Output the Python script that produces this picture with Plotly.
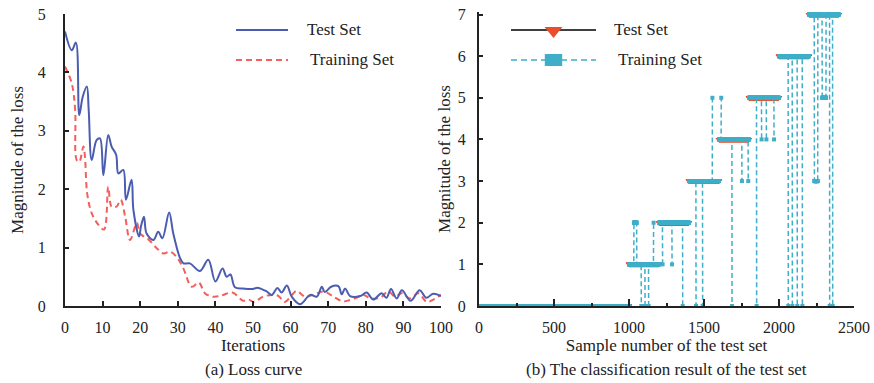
import plotly.graph_objects as go

# ---------------- Left panel: loss curves ----------------
test_iter = [0, 1.8, 2.9, 3.8, 4.7, 5.8, 6.3, 7.1, 8.4, 9.3, 10.2, 11.5, 12.4, 13.6, 14.2, 15.5, 16.2,
             17.7, 18.2, 19.7, 20.2, 21.0, 21.7, 23.5, 24.8, 25.9, 27.7, 28.8, 30.6, 31.5, 33.2, 35.9,
             38.1, 40.0, 41.9, 43.0, 44.0, 45.2, 47.4, 49.6, 51.4, 53.6, 55.0, 56.5, 57.6, 59.0, 60.3,
             62.5, 65.2, 67.0, 68.3, 69.1, 70.8, 72.7, 73.6, 74.5, 75.8, 78.5, 80.2, 82.0, 84.2, 85.5,
             86.7, 88.2, 89.6, 91.9, 94.3, 96.1, 97.9, 100]
test_loss = [4.70, 4.38, 4.51, 3.27, 3.58, 3.76, 3.36, 2.50, 2.84, 2.87, 2.24, 2.93, 2.73, 2.59, 2.27,
             2.33, 1.82, 2.16, 1.64, 1.19, 1.36, 1.53, 1.24, 1.13, 1.27, 1.16, 1.60, 1.24, 0.82, 0.73,
             0.73, 0.60, 0.79, 0.42, 0.64, 0.50, 0.54, 0.32, 0.30, 0.29, 0.31, 0.25, 0.19, 0.31, 0.23,
             0.35, 0.16, 0.03, 0.19, 0.16, 0.33, 0.24, 0.33, 0.34, 0.20, 0.30, 0.17, 0.17, 0.23, 0.11,
             0.22, 0.14, 0.29, 0.13, 0.27, 0.09, 0.27, 0.14, 0.21, 0.17]
train_iter = [0, 1.8, 2.7, 3.1, 3.8, 4.9, 5.3, 5.9, 7.1, 8.9, 10.4, 11.5, 12.4, 13.7, 14.8, 16.0, 17.3,
              19.1, 20.0, 22.2, 24.4, 26.2, 27.9, 29.7, 31.5, 33.7, 35.6, 37.2, 39.3, 41.2, 44.5, 47.4,
              48.8, 50.2, 52.7, 55.4, 56.8, 58.4, 60.5, 61.6, 63.8, 66.0, 68.8, 71.4, 73.8, 75.6, 77.5,
              79.5, 81.1, 83.8, 86.0, 87.8, 89.5, 91.7, 94.0, 96.2, 98.0, 100]
train_loss = [4.10, 3.81, 3.36, 2.50, 2.47, 2.73, 2.56, 1.93, 1.59, 1.39, 1.31, 2.04, 1.70, 1.70, 1.82,
              1.53, 1.13, 1.42, 1.24, 1.14, 0.99, 0.90, 0.93, 0.84, 0.64, 0.33, 0.40, 0.22, 0.16, 0.17,
              0.23, 0.09, 0.11, 0.07, 0.16, 0.19, 0.17, 0.07, 0.20, 0.26, 0.16, 0.19, 0.25, 0.16, 0.08,
              0.10, 0.14, 0.19, 0.13, 0.14, 0.25, 0.16, 0.22, 0.13, 0.22, 0.07, 0.11, 0.19]

# ---------------- Right panel: classification result ----------------
class_labels = [0, 1, 2, 3, 4, 5, 6, 7]
class_start = [0, 1000, 1200, 1400, 1600, 1800, 2000, 2200]
class_end = [1000, 1200, 1400, 1600, 1800, 2000, 2200, 2400]
# misclassified runs: first sample, last sample, predicted class
mis_first = [1033, 1082, 1107, 1131, 1164, 1224, 1287, 1358, 1447, 1491, 1556, 1615, 1687, 1753,
             1795, 1851, 1884, 1916, 1967, 2062, 2089, 2122, 2156, 2236, 2288, 2338, 2358]
mis_last = [1051, 1082, 1107, 1131, 1164, 1224, 1287, 1358, 1447, 1491, 1556, 1615, 1687, 1753,
            1795, 1851, 1884, 1916, 1967, 2062, 2089, 2122, 2156, 2258, 2313, 2338, 2358]
mis_pred = [2, 0, 0, 0, 2, 1, 1, 0, 0, 0, 5, 5, 0, 3, 3, 0, 4, 4, 4, 0, 0, 0, 0, 3, 5, 0, 0]

pred_of = {}
single = set()
for a, b, p in zip(mis_first, mis_last, mis_pred):
    for k in range(a, b + 1):
        pred_of[k] = p
    if a == b:
        single.add(a)

tx, ty, px_, py_ = [], [], [], []
for lab, s, e in zip(class_labels, class_start, class_end):
    for k in range(s, e):
        tx.append(k)
        ty.append(lab)
        px_.append(k)
        py_.append(pred_of.get(k, lab))
        if k in single:
            # the return leg of a one-sample jump would sit on top of the outgoing one
            px_.append(None)
            py_.append(None)
    tx.append(None); ty.append(None); px_.append(None); py_.append(None)

BLUE = "#4A5DB0"
RED_D = "#F25F5C"
CYAN = "#3FAEC8"
RED_T = "#E84E2C"
AX = "#222222"
FONT = "Liberation Serif, Times New Roman, serif"

fig = go.Figure()
fig.add_trace(go.Scatter(x=train_iter, y=train_loss, mode="lines", showlegend=False,
                         line=dict(color=RED_D, width=2, dash="6px,4px", shape="spline", smoothing=1.0),
                         xaxis="x", yaxis="y"))
fig.add_trace(go.Scatter(x=test_iter, y=test_loss, mode="lines", showlegend=False,
                         line=dict(color=BLUE, width=2, shape="spline", smoothing=1.0),
                         xaxis="x", yaxis="y"))
fig.add_trace(go.Scatter(x=tx, y=ty, mode="lines+markers", showlegend=False,
                         line=dict(color="black", width=1.5),
                         marker=dict(symbol="triangle-down", size=6, color=RED_T, line=dict(width=0)),
                         xaxis="x2", yaxis="y2"))
fig.add_trace(go.Scatter(x=px_, y=py_, mode="lines+markers", showlegend=False,
                         line=dict(color=CYAN, width=1.5, dash="5px,3px"),
                         marker=dict(symbol="square", size=4, color=CYAN, line=dict(width=0)),
                         xaxis="x2", yaxis="y2"))

tickfont = dict(family=FONT, size=16, color=AX)
titlefont = dict(family=FONT, size=17, color=AX)

common = dict(showgrid=False, zeroline=False, showline=True, linecolor=AX, linewidth=2,
              ticks="inside", tickcolor=AX, tickwidth=1.5, tickfont=tickfont, mirror=False,
              automargin=False)

fig.update_layout(
    width=874, height=383,
    margin=dict(l=65, r=20, t=12, b=77, autoexpand=False),
    paper_bgcolor="white", plot_bgcolor="white",
    showlegend=False,
    xaxis=dict(domain=[0, 376 / 789], range=[0, 100], dtick=10, ticklen=5,
               ticklabelstandoff=6,
               title=dict(text="Iterations", font=titlefont, standoff=4), **common),
    yaxis=dict(domain=[0, 292 / 294], range=[0, 5], dtick=1, ticklen=4,
               ticklabelstandoff=14,
               title=dict(text="Magnitude of the loss", font=titlefont, standoff=10), **common),
    xaxis2=dict(domain=[414 / 789, 1], range=[0, 2500], dtick=500, ticklen=7, anchor="y2",
                ticklabelstandoff=6,
                minor=dict(dtick=250, ticks="inside", ticklen=3.5, tickcolor=AX, tickwidth=1.5),
                title=dict(text="Sample number of the test set", font=titlefont, standoff=4), **common),
    yaxis2=dict(domain=[0, 1], range=[0, 7.06], dtick=1, ticklen=4, anchor="x2",
                ticklabelstandoff=8,
                title=dict(text="Magnitude of the loss", font=titlefont, standoff=3), **common),
)

def pxx(p):
    return (p - 65) / 789

def pyy(p):
    return (306 - p) / 294

shapes = []
ann = []
# Left legend
shapes.append(dict(type="line", xref="paper", yref="paper", x0=pxx(236), x1=pxx(288),
                   y0=pyy(30), y1=pyy(30), line=dict(color=BLUE, width=2)))
shapes.append(dict(type="line", xref="paper", yref="paper", x0=pxx(236), x1=pxx(288),
                   y0=pyy(60), y1=pyy(60), line=dict(color=RED_D, width=2, dash="6px,4px")))
ann.append(dict(text="Test Set", x=pxx(305), y=pyy(30), xref="paper", yref="paper",
                xanchor="left", yanchor="middle", showarrow=False, font=titlefont))
ann.append(dict(text="Training Set", x=pxx(308), y=pyy(60), xref="paper", yref="paper",
                xanchor="left", yanchor="middle", showarrow=False, font=titlefont))
# Right legend
shapes.append(dict(type="line", xref="paper", yref="paper", x0=pxx(511), x1=pxx(596),
                   y0=pyy(30), y1=pyy(30), line=dict(color="black", width=1.5)))
shapes.append(dict(type="path", xref="paper", yref="paper", xsizemode="pixel", ysizemode="pixel",
                   xanchor=pxx(553.5), yanchor=pyy(30),
                   path="M -9 3 L 9 3 L 0 -8 Z",
                   fillcolor=RED_T, line=dict(width=0)))
shapes.append(dict(type="line", xref="paper", yref="paper", x0=pxx(511), x1=pxx(596),
                   y0=pyy(60), y1=pyy(60), line=dict(color=CYAN, width=1.5, dash="6px,4px")))
shapes.append(dict(type="rect", xref="paper", yref="paper", xsizemode="pixel", ysizemode="pixel",
                   xanchor=pxx(553.5), yanchor=pyy(60), x0=-8.7, x1=8.7, y0=-6, y1=6,
                   fillcolor=CYAN, line=dict(width=0)))
ann.append(dict(text="Test Set", x=pxx(612), y=pyy(30), xref="paper", yref="paper",
                xanchor="left", yanchor="middle", showarrow=False, font=titlefont))
ann.append(dict(text="Training Set", x=pxx(615.5), y=pyy(60), xref="paper", yref="paper",
                xanchor="left", yanchor="middle", showarrow=False, font=titlefont))
# Subtitles
ann.append(dict(text="(a) Loss curve", x=pxx(253), y=pyy(369), xref="paper", yref="paper",
                xanchor="center", yanchor="middle", showarrow=False, font=titlefont))
ann.append(dict(text="(b) The classification result of the test set", x=pxx(666.5), y=pyy(369),
                xref="paper", yref="paper", xanchor="center", yanchor="middle", showarrow=False,
                font=titlefont))

fig.update_layout(shapes=shapes, annotations=ann)
fig.write_html("out.html")
